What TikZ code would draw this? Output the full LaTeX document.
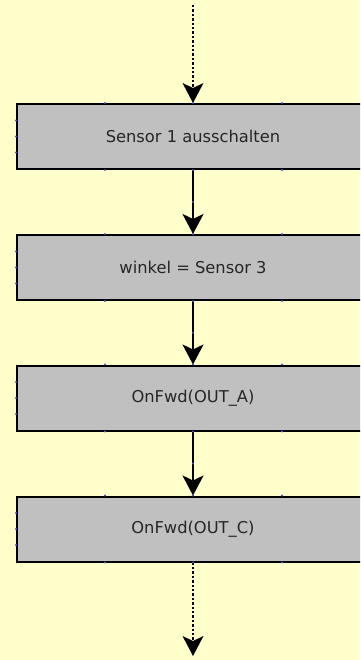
\documentclass[tikz,border=0pt]{standalone}
\usepackage{fontspec}
\setmainfont{DejaVu Sans}
\usetikzlibrary{arrows.meta,calc}
\definecolor{bgyellow}{HTML}{FFFFCC}
\definecolor{boxgray}{HTML}{C0C0C0}
\definecolor{txtgray}{HTML}{262626}
\definecolor{pinblue}{HTML}{5050D0}
\tikzset{
  stepbox/.style={draw=black, line width=2pt, fill=boxgray, minimum width=352pt,
    minimum height=65pt, inner sep=0pt, text=txtgray, font=\fontsize{16.3}{19}\selectfont},
  flow/.style={line width=2pt, -{Stealth[length=20pt,width=21pt,inset=5pt]}},
  openflow/.style={line width=2.6pt, dash pattern=on 2.4pt off 2pt,
    -{Stealth[length=20pt,width=21pt,inset=5pt,line width=0pt]}}
}
\begin{document}
\begin{tikzpicture}[x=1pt,y=-1pt]
  \fill[bgyellow] (0,0) rectangle (360,660);
  \useasboundingbox (0,0) rectangle (360,660);
  \begin{scope}
    \clip (0,0) rectangle (360,660);
    \node[stepbox] (s1) at (193,136.5) {Sensor 1 ausschalten};
    \node[stepbox] (s2) at (193,267.5) {winkel = Sensor 3};
    \node[stepbox] (s3) at (193,398)   {OnFwd(OUT\_A)};
    \node[stepbox] (s4) at (193,529)   {OnFwd(OUT\_C)};
    \coordinate (start) at (193,5);
    \coordinate (stop)  at (193,656);
    \draw[openflow] (start) -- (s1.north);
    \draw[flow] (s1.south) -- (s2.north);
    \draw[flow] (s2.south) -- (s3.north);
    \draw[flow] (s3.south) -- (s4.north);
    \draw[openflow] (s4.south) -- (stop);
    % connection pins on the box edges
    \foreach \b in {s1,s2,s3,s4}{
      \foreach \dx in {-88,0,89}{
        \fill[pinblue] ([xshift=\dx pt]\b.north) circle (1.1pt);
        \fill[pinblue] ([xshift=\dx pt]\b.south) circle (1.1pt);
      }
      \foreach \dy in {-16,0,16}{
        \fill[pinblue] ([yshift=\dy pt]\b.west) circle (1.1pt);
      }
    }
    % midpoints of the solid connectors
    \foreach \a/\b in {s1/s2,s2/s3,s3/s4}{
      \fill[pinblue] ($(\a.south)!0.5!(\b.north)$) circle (1.1pt);
    }
  \end{scope}
\end{tikzpicture}
\end{document}
